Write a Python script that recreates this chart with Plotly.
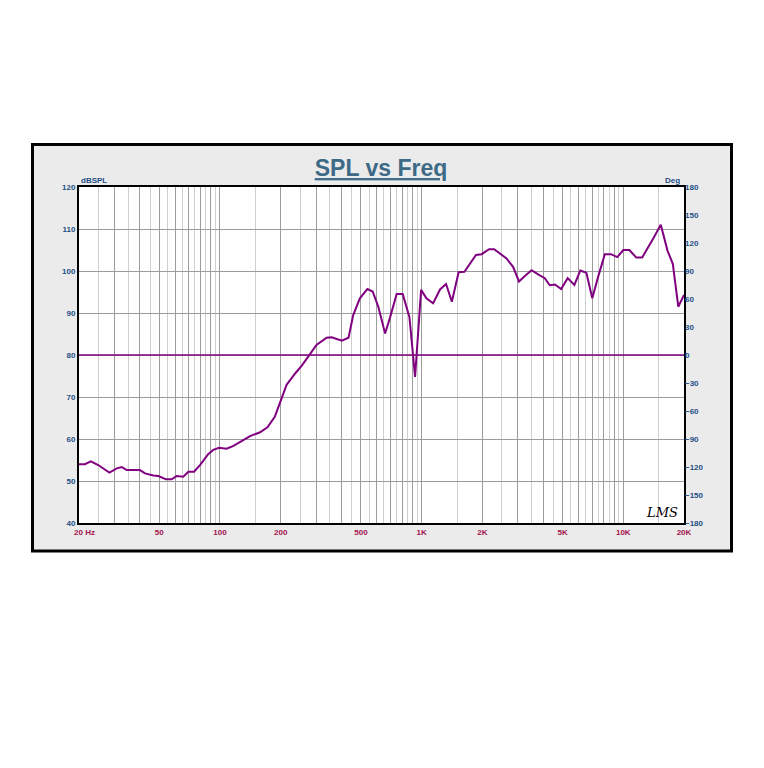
import plotly.graph_objects as go

# ---- data ----
freq_hz = [20, 21.4, 22.9, 24.9, 28.3, 30.8, 32.6, 34.5, 40.1, 42.5, 46.7, 49.5, 54, 57.6, 61,
           65.8, 69.7, 74.4, 79.6, 87.4, 92.6, 99, 107.8, 116, 128, 141, 158, 172, 187, 200,
           214, 236, 254, 274, 301, 338, 358, 402, 434, 458, 494, 538, 572, 610, 659, 697,
           752, 806, 870, 928, 994, 1056, 1140, 1234, 1322, 1412, 1526, 1630, 1740, 1860,
           1984, 2160, 2288, 2636, 2840, 3040, 3250, 3508, 3780, 4080, 4320, 4580, 4920,
           5300, 5720, 6120, 6560, 7020, 7500, 8100, 8680, 9340, 10000, 10720, 11600,
           12400, 14100, 15340, 16580, 17600, 18740, 20000]
spl_db = [54.0, 54.0, 54.7, 53.8, 52.0, 53.0, 53.3, 52.6, 52.6, 51.8, 51.3, 51.2, 50.4, 50.4, 51.2,
          51.0, 52.2, 52.2, 53.8, 56.4, 57.4, 57.9, 57.7, 58.3, 59.5, 60.7, 61.6, 62.8, 65.3, 69.3,
          72.9, 75.6, 77.4, 79.6, 82.4, 84.1, 84.2, 83.4, 84.1, 89.5, 93.5, 95.7, 95.1, 91.5, 85.1, 88.9,
          94.5, 94.5, 89.0, 74.8, 95.5, 93.5, 92.3, 95.6, 96.9, 92.7, 99.7, 99.8, 101.8, 103.8,
          104.0, 105.2, 105.2, 103.0, 101.0, 97.5, 98.8, 100.2, 99.2, 98.3, 96.6, 96.8, 95.7,
          98.3, 96.7, 100.1, 99.6, 93.5, 98.6, 104.0, 104.0, 103.3, 105.0, 105.0, 103.2,
          103.2, 107.8, 111.0, 104.8, 101.7, 91.5, 94.3]

phase_freq = [20, 20000]
phase_deg = [0, 0]

x_major = [20, 30, 40, 50, 60, 70, 80, 90, 100, 200, 300, 400, 500, 600, 700, 800, 900,
           1000, 2000, 3000, 4000, 5000, 6000, 7000, 8000, 9000, 10000, 20000]
x_labels = {20: "\u00a0\u00a0\u00a0\u00a0\u00a020 Hz", 50: "50", 100: "100", 200: "200", 500: "500",
            1000: "1K", 2000: "2K", 5000: "5K", 10000: "10K", 20000: "20K"}
x_minor = [25, 35, 45, 55, 65, 75, 85, 95, 150, 250, 350, 450, 550, 650, 750, 850, 950,
           1500, 2500, 3500, 4500, 5500, 6500, 7500, 8500, 9500, 15000]
y_ticks = [40, 50, 60, 70, 80, 90, 100, 110, 120]
y2_ticks = [-180, -150, -120, -90, -60, -30, 0, 30, 60, 90, 120, 150, 180]

PURPLE = "#800080"
BLUE = "#1d4f86"
RED = "#a3124c"

fig = go.Figure()
fig.add_trace(go.Scatter(x=freq_hz, y=spl_db, mode="lines",
                         line=dict(color=PURPLE, width=2), showlegend=False))
fig.add_trace(go.Scatter(x=phase_freq, y=phase_deg, mode="lines", yaxis="y2",
                         line=dict(color=PURPLE, width=1.6), showlegend=False))

tickfont = dict(family="Liberation Sans, Arial", size=8, color=BLUE, weight="bold")

# page body has an 8px margin, so figure coords = screen coords - 8
fig.update_layout(
    width=764, height=768, autosize=False,
    margin=dict(l=71, r=88, t=179, b=253, pad=0),
    paper_bgcolor="white", plot_bgcolor="white",
    title=dict(text="<u>SPL vs Freq</u>", x=373 / 764, xanchor="center",
               y=1 - 160 / 768, yanchor="middle",
               font=dict(family="Liberation Sans, Arial", size=23, color="#3d6a86", weight="bold")),
    xaxis=dict(type="log", range=[1.30103, 4.30103],
               tickmode="array", tickvals=x_major,
               ticktext=[x_labels.get(v, "") for v in x_major],
               tickfont=dict(family="Liberation Sans, Arial", size=8, color=RED, weight="bold"),
               showgrid=True, gridcolor="#9c9c9c", gridwidth=1,
               minor=dict(tickvals=x_minor, showgrid=True, gridcolor="#cfcfcf", gridwidth=1, ticks=""),
               showline=True, linecolor="black", linewidth=2, mirror=True,
               ticks="", zeroline=False, tickangle=0),
    yaxis=dict(range=[40, 120], tickmode="array", tickvals=y_ticks,
               tickfont=tickfont, showgrid=True, gridcolor="#9c9c9c", gridwidth=1,
               showline=True, linecolor="black", linewidth=2, mirror=True,
               ticks="", zeroline=False),
    yaxis2=dict(range=[-180, 180], overlaying="y", side="right",
                tickmode="array", tickvals=y2_ticks, tickfont=tickfont,
                showgrid=False, zeroline=False, showline=False, ticks=""),
    shapes=[
        dict(type="rect", xref="paper", yref="paper",
             x0=(32.5 - 79) / 605, x1=(731.5 - 79) / 605,
             y0=(523 - 551) / 336, y1=(523 - 144.5) / 336,
             fillcolor="#ebebeb", line=dict(color="black", width=3), layer="below"),
        dict(type="rect", xref="paper", yref="paper", x0=0, x1=1, y0=0, y1=1,
             fillcolor="white", line=dict(width=0), layer="below"),
    ],
    annotations=[
        dict(text="dBSPL", xref="paper", yref="paper", x=0, y=1, xanchor="left", yanchor="bottom",
             showarrow=False, font=tickfont, yshift=0),
        dict(text="Deg", xref="paper", yref="paper", x=1, y=1, xanchor="right", yanchor="bottom",
             showarrow=False, font=tickfont, xshift=-2),
        dict(text="<i>LMS</i>", xref="paper", yref="paper", x=(662 - 79) / 605, y=(523 - 512) / 336,
             xanchor="center", yanchor="middle", showarrow=False,
             font=dict(family="DejaVu Serif", size=13, color="black")),
    ],
)

fig.write_html("out.html")
